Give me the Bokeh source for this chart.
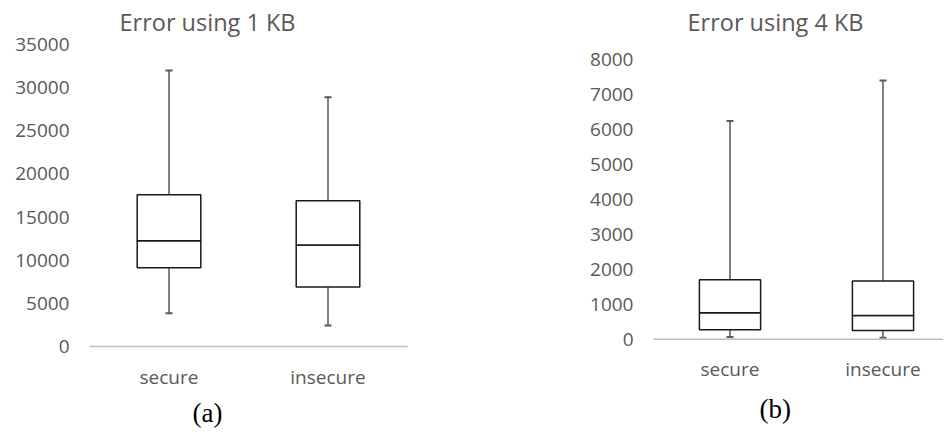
from bokeh.plotting import figure
from bokeh.layouts import row
from bokeh.models import Range1d, FixedTicker, ColumnDataSource, Whisker, TeeHead, Title, Span
from bokeh.embed import file_html
from bokeh.resources import INLINE

# ---- data ----
categories = ["secure", "insecure"]

kb1_min = [3850, 2430]
kb1_q1 = [9130, 6900]
kb1_median = [12250, 11750]
kb1_q3 = [17600, 16900]
kb1_max = [32000, 28900]

kb4_min = [60, 40]
kb4_q1 = [270, 250]
kb4_median = [760, 680]
kb4_q3 = [1700, 1670]
kb4_max = [6250, 7410]

titles = ["Error using 1 KB", "Error using 4 KB"]
captions = ["(a)", "(b)"]
y_ticks_1 = [0, 5000, 10000, 15000, 20000, 25000, 30000, 35000]
y_ticks_4 = [0, 1000, 2000, 3000, 4000, 5000, 6000, 7000, 8000]

GRAY = "#595959"
AXIS_GRAY = "#bfbfbf"
FONT = "Open Sans"


def make_panel(mins, q1s, meds, q3s, maxs, yticks, y_range, title, caption,
               width, mb_left, mb_right, x_end, title_offset, cap_offset,
               xlabel_standoff, cap_standoff, zero_span):
    xs = [i + 0.5 for i in range(len(categories))]
    src = ColumnDataSource(dict(x=xs, cat=categories, lo=mins, q1=q1s,
                                med=meds, q3=q3s, hi=maxs))
    p = figure(width=width, height=431, output_backend="svg",
               toolbar_location=None, x_range=Range1d(0, x_end),
               y_range=y_range,
               min_border_left=mb_left, min_border_right=mb_right,
               min_border_top=44, min_border_bottom=85)
    p.outline_line_color = None
    p.xgrid.visible = False
    p.ygrid.visible = False

    # whiskers
    upper = Whisker(source=src, base="x", lower="q3", upper="hi", dimension="height",
                    line_color=GRAY, line_width=1.5,
                    upper_head=TeeHead(size=7, line_color=GRAY, line_width=2),
                    lower_head=None)
    lower = Whisker(source=src, base="x", lower="lo", upper="q1", dimension="height",
                    line_color=GRAY, line_width=1.5,
                    lower_head=TeeHead(size=7, line_color=GRAY, line_width=2),
                    upper_head=None)
    p.add_layout(upper)
    p.add_layout(lower)

    # boxes (split at the median)
    p.vbar(x="x", bottom="q1", top="med", width=0.4, source=src,
           fill_color="white", line_color="#1a1a1a", line_width=1.5)
    p.vbar(x="x", bottom="med", top="q3", width=0.4, source=src,
           fill_color="white", line_color="#1a1a1a", line_width=1.5)

    # axes
    p.xaxis.ticker = FixedTicker(ticks=xs)
    p.xaxis.major_label_overrides = {x: c for x, c in zip(xs, categories)}
    p.xaxis.major_tick_line_color = None
    p.xaxis.minor_tick_line_color = None
    p.xaxis.major_tick_out = 0
    p.xaxis.major_tick_in = 0
    p.xaxis.major_label_text_font = FONT
    p.xaxis.major_label_text_font_size = "19px"
    p.xaxis.major_label_text_color = GRAY
    p.xaxis.major_label_standoff = xlabel_standoff
    if zero_span:
        p.xaxis.axis_line_color = None
        p.add_layout(Span(location=0, dimension="width", line_color=AXIS_GRAY,
                          line_width=1.5))
    else:
        p.xaxis.axis_line_color = AXIS_GRAY
        p.xaxis.axis_line_width = 1.5

    p.yaxis.ticker = FixedTicker(ticks=yticks)
    p.yaxis.axis_line_color = None
    p.yaxis.major_tick_line_color = None
    p.yaxis.minor_tick_line_color = None
    p.yaxis.major_tick_out = 0
    p.yaxis.major_tick_in = 0
    p.yaxis.major_label_text_font = FONT
    p.yaxis.major_label_text_font_size = "19px"
    p.yaxis.major_label_text_color = GRAY
    p.yaxis.major_label_standoff = 20

    p.add_layout(Title(text=title, align="left", offset=title_offset, standoff=10,
                       vertical_align="top",
                       text_font=FONT, text_font_size="23.5px", text_color=GRAY,
                       text_font_style="normal"), "above")
    p.add_layout(Title(text=caption, align="left", offset=cap_offset,
                       standoff=cap_standoff,
                       text_font="Liberation Serif", text_font_size="27px",
                       text_color="black", text_font_style="normal"), "below")
    return p


p1 = make_panel(kb1_min, kb1_q1, kb1_median, kb1_q3, kb1_max, y_ticks_1,
                Range1d(0, 35000), titles[0], captions[0],
                width=470, mb_left=89, mb_right=63, x_end=2.0,
                title_offset=30, cap_offset=103, xlabel_standoff=17,
                cap_standoff=6, zero_span=False)
p2 = make_panel(kb4_min, kb4_q1, kb4_median, kb4_q3, kb4_max, y_ticks_4,
                Range1d(-209, 8438), titles[1], captions[1],
                width=473, mb_left=183, mb_right=0, x_end=290 / 153,
                title_offset=34, cap_offset=106, xlabel_standoff=9,
                cap_standoff=14, zero_span=True)

layout = row(p1, p2)
open("out.html", "w").write(file_html(layout, INLINE))
